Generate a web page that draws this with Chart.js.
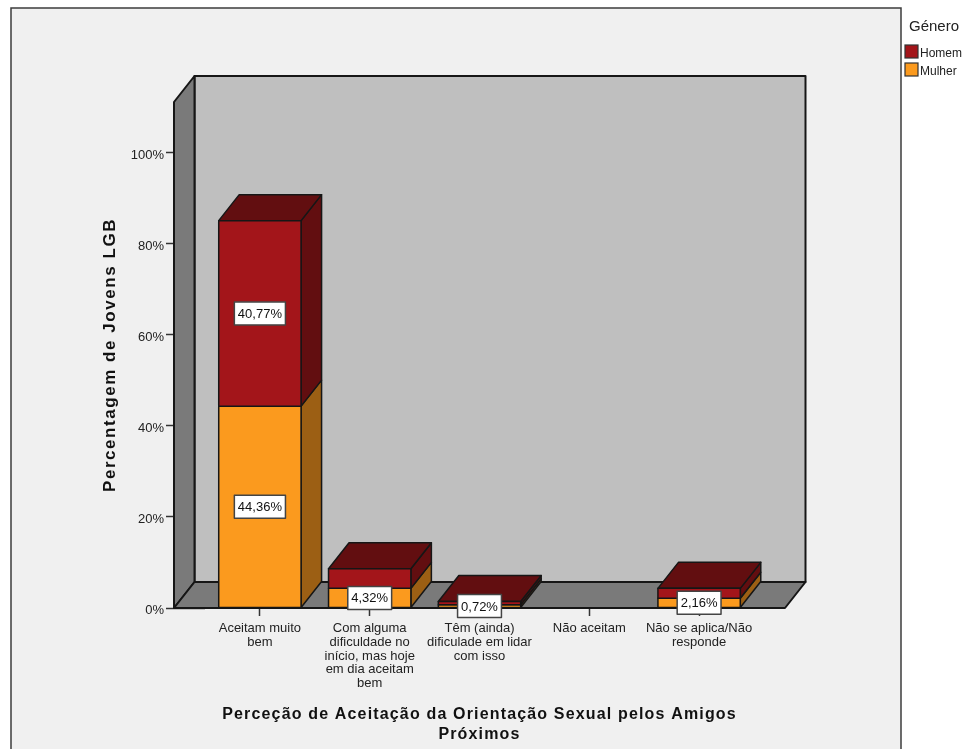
<!DOCTYPE html>
<html lang="pt">
<head>
<meta charset="utf-8">
<title>Perceção de Aceitação</title>
<script src="https://cdn.jsdelivr.net/npm/chart.js@4"></script>
<style>
  html, body { margin: 0; padding: 0; background: #fff; }
  canvas { display: block; }
</style>
</head>
<body>
<canvas id="grafico" width="963" height="749"></canvas>
<script>
const categorias = [
  ['Aceitam muito', 'bem'],
  ['Com alguma', 'dificuldade no', 'início, mas hoje', 'em dia aceitam', 'bem'],
  ['Têm (ainda)', 'dificulade em lidar', 'com isso'],
  ['Não aceitam'],
  ['Não se aplica/Não', 'responde']
];
const mulher = [44.36, 4.32, 0.72, 0, 2.16];
const homem = [40.77, 4.32, 0.72, 0, 2.16];
// so estas etiquetas aparecem no grafico, as outras ficam tapadas
const etiquetaMulher = [true, true, true, false, true];
const etiquetaHomem = [true, false, false, false, false];
const tituloX = ['Perceção de Aceitação da Orientação Sexual pelos Amigos', 'Próximos'];
const tituloY = 'Percentagem de Jovens LGB';
const tituloLegenda = 'Género';

const FONTE = '"Liberation Sans", Arial, sans-serif';
const PROF_X = 20.5, PROF_Y = -26; // deslocamento da profundidade 3D
const COR_LINHA = '#161616';
const COR_TEXTO = '#222';

function poligono(ctx, pontos, cor, linha = 2) {
  ctx.beginPath();
  pontos.forEach((p, i) => i ? ctx.lineTo(p[0], p[1]) : ctx.moveTo(p[0], p[1]));
  ctx.closePath();
  ctx.fillStyle = cor;
  ctx.fill();
  ctx.lineWidth = linha;
  ctx.lineJoin = 'round';
  ctx.strokeStyle = COR_LINHA;
  ctx.stroke();
}

function textoEspacado(ctx, texto, x, y, espaco) {
  ctx.letterSpacing = espaco + 'px';
  ctx.fillText(texto, x, y);
  ctx.letterSpacing = '0px';
}

const caixa3D = {
  id: 'caixa3D',
  // moldura, legenda e titulos
  beforeDraw(chart) {
    const ctx = chart.ctx;
    ctx.save();
    ctx.fillStyle = '#f0f0f0';
    ctx.fillRect(11, 8, 890, 760);
    ctx.strokeStyle = '#3c3c3c';
    ctx.lineWidth = 1.5;
    ctx.strokeRect(11, 8, 890, 760);

    ctx.fillStyle = COR_TEXTO;
    ctx.textAlign = 'left';
    ctx.textBaseline = 'middle';
    ctx.font = '15px ' + FONTE;
    ctx.fillText(tituloLegenda, 909, 27);
    ctx.font = '12px ' + FONTE;
    [chart.data.datasets[1], chart.data.datasets[0]].forEach((ds, i) => {
      const y = 45 + i * 18;
      ctx.fillStyle = ds.backgroundColor;
      ctx.fillRect(905, y, 13, 13);
      ctx.strokeStyle = '#333';
      ctx.lineWidth = 1.2;
      ctx.strokeRect(905, y, 13, 13);
      ctx.fillStyle = COR_TEXTO;
      ctx.fillText(ds.label, 920, y + 9);
    });

    ctx.textAlign = 'center';
    ctx.fillStyle = '#111';
    ctx.font = 'bold 16px ' + FONTE;
    const a = chart.chartArea;
    const centroX = (a.left + a.right) / 2;
    tituloX.forEach((linha, i) => textoEspacado(ctx, linha, centroX, 715 + i * 20, 1.16));
    ctx.translate(110, (a.top + a.bottom) / 2);
    ctx.rotate(-Math.PI / 2);
    ctx.font = 'bold 17px ' + FONTE;
    textoEspacado(ctx, tituloY, 0, 0, 1.55);
    ctx.restore();
  },
  // paredes e chao, a volta da area do grafico
  beforeDatasetsDraw(chart) {
    const ctx = chart.ctx, a = chart.chartArea;
    const esq = a.left - 31, dir = a.right + 31;
    const fundo = chart.scales.y.getPixelForValue(0);
    const topo = chart.scales.y.getPixelForValue(chart.scales.y.max);
    ctx.save();
    poligono(ctx, [[esq + PROF_X, topo + PROF_Y], [dir + PROF_X, topo + PROF_Y],
      [dir + PROF_X, fundo + PROF_Y], [esq + PROF_X, fundo + PROF_Y]], '#bfbfbf');
    poligono(ctx, [[esq, topo], [esq + PROF_X, topo + PROF_Y],
      [esq + PROF_X, fundo + PROF_Y], [esq, fundo]], '#7a7a7a');
    poligono(ctx, [[esq, fundo], [esq + PROF_X, fundo + PROF_Y],
      [dir + PROF_X, fundo + PROF_Y], [dir, fundo]], '#7a7a7a');
    ctx.restore();
  },
  // contornos, faces laterais, topos e etiquetas de valor
  afterDatasetsDraw(chart) {
    const ctx = chart.ctx;
    ctx.save();
    chart.data.datasets.forEach((ds, d) => {
      chart.getDatasetMeta(d).data.forEach((bar, i) => {
        if (!ds.data[i]) return;
        const dir = bar.x + bar.width / 2, esq = bar.x - bar.width / 2;
        poligono(ctx, [[dir, bar.base], [dir + PROF_X, bar.base + PROF_Y],
          [dir + PROF_X, bar.y + PROF_Y], [dir, bar.y]], ds.corLado, 1.5);
        if (d === chart.data.datasets.length - 1) {
          poligono(ctx, [[esq, bar.y], [esq + PROF_X, bar.y + PROF_Y],
            [dir + PROF_X, bar.y + PROF_Y], [dir, bar.y]], ds.corLado, 1.5);
        }
        poligono(ctx, [[esq, bar.base], [dir, bar.base], [dir, bar.y], [esq, bar.y]], ds.backgroundColor, 1.5);
      });
    });
    ctx.font = '13px ' + FONTE;
    ctx.textAlign = 'center';
    ctx.textBaseline = 'middle';
    chart.data.datasets.forEach((ds, d) => {
      chart.getDatasetMeta(d).data.forEach((bar, i) => {
        if (!ds.etiquetas[i]) return;
        const cy = (bar.y + bar.base) / 2;
        const texto = ds.data[i].toFixed(2).replace('.', ',') + '%';
        const largura = ctx.measureText(texto).width + 7;
        ctx.fillStyle = '#fff';
        ctx.fillRect(bar.x - largura / 2, cy - 11.5, largura, 23);
        ctx.strokeStyle = '#444';
        ctx.lineWidth = 1.5;
        ctx.strokeRect(bar.x - largura / 2, cy - 11.5, largura, 23);
        ctx.fillStyle = '#111';
        ctx.fillText(texto, bar.x, cy + 1);
      });
    });
    ctx.restore();
  }
};

Chart.defaults.font.family = FONTE;
Chart.defaults.color = COR_TEXTO;

new Chart(document.getElementById('grafico').getContext('2d'), {
  type: 'bar',
  data: {
    labels: categorias,
    datasets: [
      { label: 'Mulher', data: mulher, backgroundColor: '#fb9a1e', corLado: '#9c5f14', etiquetas: etiquetaMulher },
      { label: 'Homem', data: homem, backgroundColor: '#a3151a', corLado: '#620e10', etiquetas: etiquetaHomem }
    ]
  },
  options: {
    responsive: false,
    animation: false,
    events: [],
    layout: { padding: { top: 102, right: 209, left: 0, bottom: 0 } },
    datasets: {
      bar: {
        barPercentage: 0.75,
        categoryPercentage: 1,
        borderWidth: 0
      }
    },
    plugins: { legend: { display: false }, tooltip: { enabled: false } },
    scales: {
      x: {
        stacked: true,
        afterFit(scale) { scale.height = 141; },
        border: { display: false },
        grid: { offset: false, drawOnChartArea: false, tickLength: 8, tickColor: '#333', tickWidth: 1.5 },
        ticks: { autoSkip: false, maxRotation: 0, padding: 6, font: { size: 13, lineHeight: 1.05 }, color: COR_TEXTO }
      },
      y: {
        stacked: true,
        min: 0,
        max: 111.2,
        afterFit(scale) { scale.width = 205; },
        border: { display: false },
        grid: { drawOnChartArea: false, tickLength: 39, tickColor: '#333', tickWidth: 1.5 },
        ticks: {
          stepSize: 20,
          includeBounds: false,
          padding: 2,
          labelOffset: 2,
          font: { size: 13 },
          color: COR_TEXTO,
          callback: v => v + '%'
        }
      }
    }
  },
  plugins: [caixa3D]
});
</script>
</body>
</html>
